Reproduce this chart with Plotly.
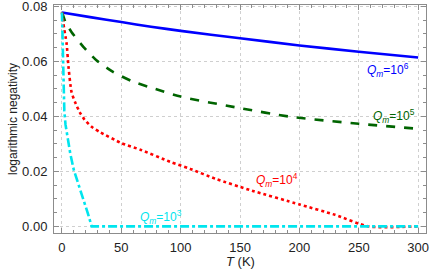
import plotly.graph_objects as go

# Data
T_q6 = [0, 25, 50, 75, 100, 150, 200, 250, 300]
LN_q6 = [0.0778, 0.0760, 0.0743, 0.0726, 0.0711, 0.0684, 0.0658, 0.0635, 0.0614]

T_q5 = [0, 1, 3, 8, 18, 29, 43, 60, 74, 100, 150, 192, 250, 300]
LN_q5 = [0.0778, 0.0767, 0.0742, 0.0707, 0.0653, 0.0604, 0.0562, 0.0526, 0.0506,
         0.0472, 0.0430, 0.0399, 0.0373, 0.0355]

T_q4 = [0, 1, 2, 3, 4, 5.5, 8, 11, 15, 19, 25, 32, 50, 66, 91, 108, 130, 160,
        200, 230, 258, 300]
LN_q4 = [0.0778, 0.0745, 0.0715, 0.069, 0.0662, 0.058, 0.0490, 0.0452, 0.0415,
         0.0388, 0.0362, 0.0343, 0.0303, 0.0279, 0.0235, 0.0209, 0.0172, 0.0130,
         0.0080, 0.0042, 0.0, 0.0]

T_q3 = [0, 0.5, 1, 2, 3, 4, 7, 10, 14, 18, 22, 25, 300]
LN_q3 = [0.0778, 0.065, 0.052, 0.042, 0.037, 0.034, 0.0265, 0.0205, 0.0148,
         0.0098, 0.0045, 0.0, 0.0]

labels = ["<i>Q</i><sub><i>m</i></sub>=10<sup>6</sup>",
          "<i>Q</i><sub><i>m</i></sub>=10<sup>5</sup>",
          "<i>Q</i><sub><i>m</i></sub>=10<sup>4</sup>",
          "<i>Q</i><sub><i>m</i></sub>=10<sup>3</sup>"]
label_T = [275, 280, 181, 83]
label_LN = [0.0568, 0.0402, 0.0167, 0.0036]

x_ticks = [0, 50, 100, 150, 200, 250, 300]
x_ticktext = ["0", "50", "100", "150", "200", "250", "300"]
y_ticks = [0.0, 0.02, 0.04, 0.06, 0.08]
y_ticktext = ["0.00", "0.02", "0.04", "0.06", "0.08"]

colors = ["#0000ff", "#006400", "#ff0000", "#00e5ee"]
dashes = ["solid", "dash", "dot", "dashdot"]

FONT = "Liberation Sans"

fig = go.Figure()
series = [(T_q6, LN_q6), (T_q5, LN_q5), (T_q4, LN_q4), (T_q3, LN_q3)]
shapes = ["spline", "spline", "spline", "linear"]
for (t, v), c, d, s in zip(series, colors, dashes, shapes):
    fig.add_trace(go.Scatter(x=t, y=v, mode="lines",
                             line=dict(color=c, dash=d, width=2.6, shape=s,
                                       smoothing=0.6),
                             showlegend=False, hoverinfo="skip"))

for txt, tx, ty, c in zip(labels, label_T, label_LN, colors):
    fig.add_annotation(x=tx, y=ty, text=txt, showarrow=False,
                       font=dict(color=c, size=12, family=FONT))

# axis titles as paper annotations (fixed placement)
fig.add_annotation(xref="paper", yref="paper", x=0.5, y=0, yshift=-28,
                   text="<i>T</i> (K)", showarrow=False, yanchor="middle",
                   font=dict(size=13, family=FONT, color="#222"))
fig.add_annotation(xref="paper", yref="paper", x=0, y=0.5, xshift=-41,
                   text="logarithmic negativity", showarrow=False, textangle=-90,
                   xanchor="center", yanchor="middle",
                   font=dict(size=12, family=FONT, color="#222"))

axis_common = dict(
    showline=True, linecolor="#8c8c8c", linewidth=1, mirror="allticks",
    ticks="inside", ticklen=5, tickwidth=1, tickcolor="#8c8c8c",
    showgrid=True, gridcolor="#cfcfcf", griddash="dot", gridwidth=1,
    zeroline=False, automargin=False, ticklabeloverflow="allow",
    tickfont=dict(size=13, family=FONT, color="#222"),
)

fig.update_xaxes(range=[-6.7, 306.6], tickmode="array",
                 tickvals=x_ticks, ticktext=x_ticktext,
                 minor=dict(dtick=10, tick0=0, ticks="inside", ticklen=3,
                            tickcolor="#8c8c8c", showgrid=False),
                 ticklabelstandoff=2,
                 **axis_common)
fig.update_yaxes(range=[-0.0024, 0.0805], tickmode="array",
                 tickvals=y_ticks, ticktext=y_ticktext,
                 minor=dict(dtick=0.005, tick0=0, ticks="inside", ticklen=3,
                            tickcolor="#8c8c8c", showgrid=False),
                 ticklabelstandoff=3,
                 **axis_common)

fig.update_layout(width=436, height=269,
                  margin=dict(l=54, r=10, t=5, b=36),
                  plot_bgcolor="white", paper_bgcolor="white")

fig.write_html("out.html", config={"displayModeBar": False},
               post_script="document.body.style.margin='0';")
